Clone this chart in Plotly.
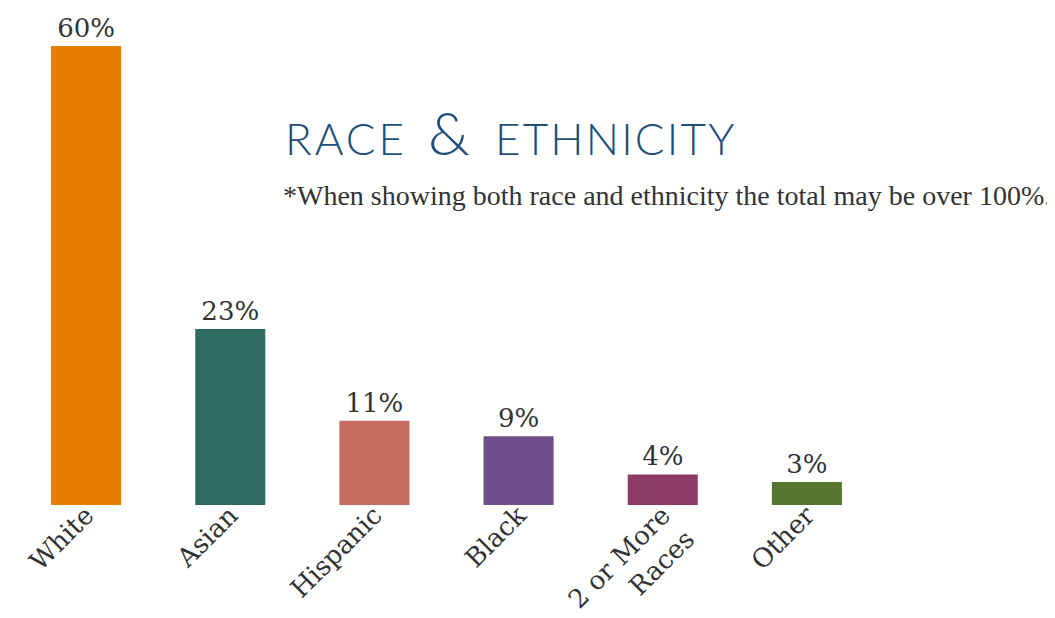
import plotly.graph_objects as go

categories = ["White", "Asian", "Hispanic", "Black", "2 or More<br>Races", "Other"]
values = [60, 23, 11, 9, 4, 3]
labels = ["60%", "23%", "11%", "9%", "4%", "3%"]
colors = ["#E57E00", "#2E6C63", "#C46D5E", "#6E4F8C", "#8E3A67", "#55762F"]

OFF = 8  # default page body margin
W, H = 1055 - OFF, 618 - OFF
ml, mr, mt, mb = 6, 176, 38, 113

fig = go.Figure(go.Bar(
    x=categories, y=values, marker_color=colors, marker_line_width=0,
    text=labels, textposition="outside", cliponaxis=False,
    textfont=dict(family="DejaVu Serif", size=26, color="#333333"),
))

def px_x(px):
    return (px - OFF - ml) / (W - ml - mr)

def px_y(py):
    return 1 - (py - OFF - mt) / (H - mt - mb)

title = ("<span style='letter-spacing:3px'>RACE</span>"
         "<span style='letter-spacing:9px'> </span>"
         "<span style='font-size:60px'>&amp;</span>"
         "<span style='letter-spacing:13px'> </span>"
         "<span style='letter-spacing:2.2px'>ETHNICITY</span>")

fig.add_annotation(
    x=px_x(283), y=px_y(132), xref="paper", yref="paper", xanchor="left", yanchor="middle",
    showarrow=False, text=title,
    font=dict(family="Lato", size=44, color="#1F4E7A", weight=300),
)
fig.add_annotation(
    x=px_x(281), y=px_y(196), xref="paper", yref="paper", xanchor="left", yanchor="middle",
    showarrow=False,
    text="*When showing both race and ethnicity the total may be over 100%.",
    font=dict(family="Liberation Serif", size=28, color="#333333"),
)

fig.update_layout(
    width=W, height=H,
    margin=dict(l=ml, r=mr, t=mt, b=mb, autoexpand=False),
    plot_bgcolor="white", paper_bgcolor="white",
    bargap=0.514, showlegend=False,
    xaxis=dict(tickangle=-45, tickfont=dict(family="DejaVu Serif", size=26, color="#333333"),
               ticklabelstandoff=-11,
               showgrid=False, showline=False, ticks="", automargin=False),
    yaxis=dict(range=[0, 60], visible=False, automargin=False),
)

fig.write_html("out.html")
